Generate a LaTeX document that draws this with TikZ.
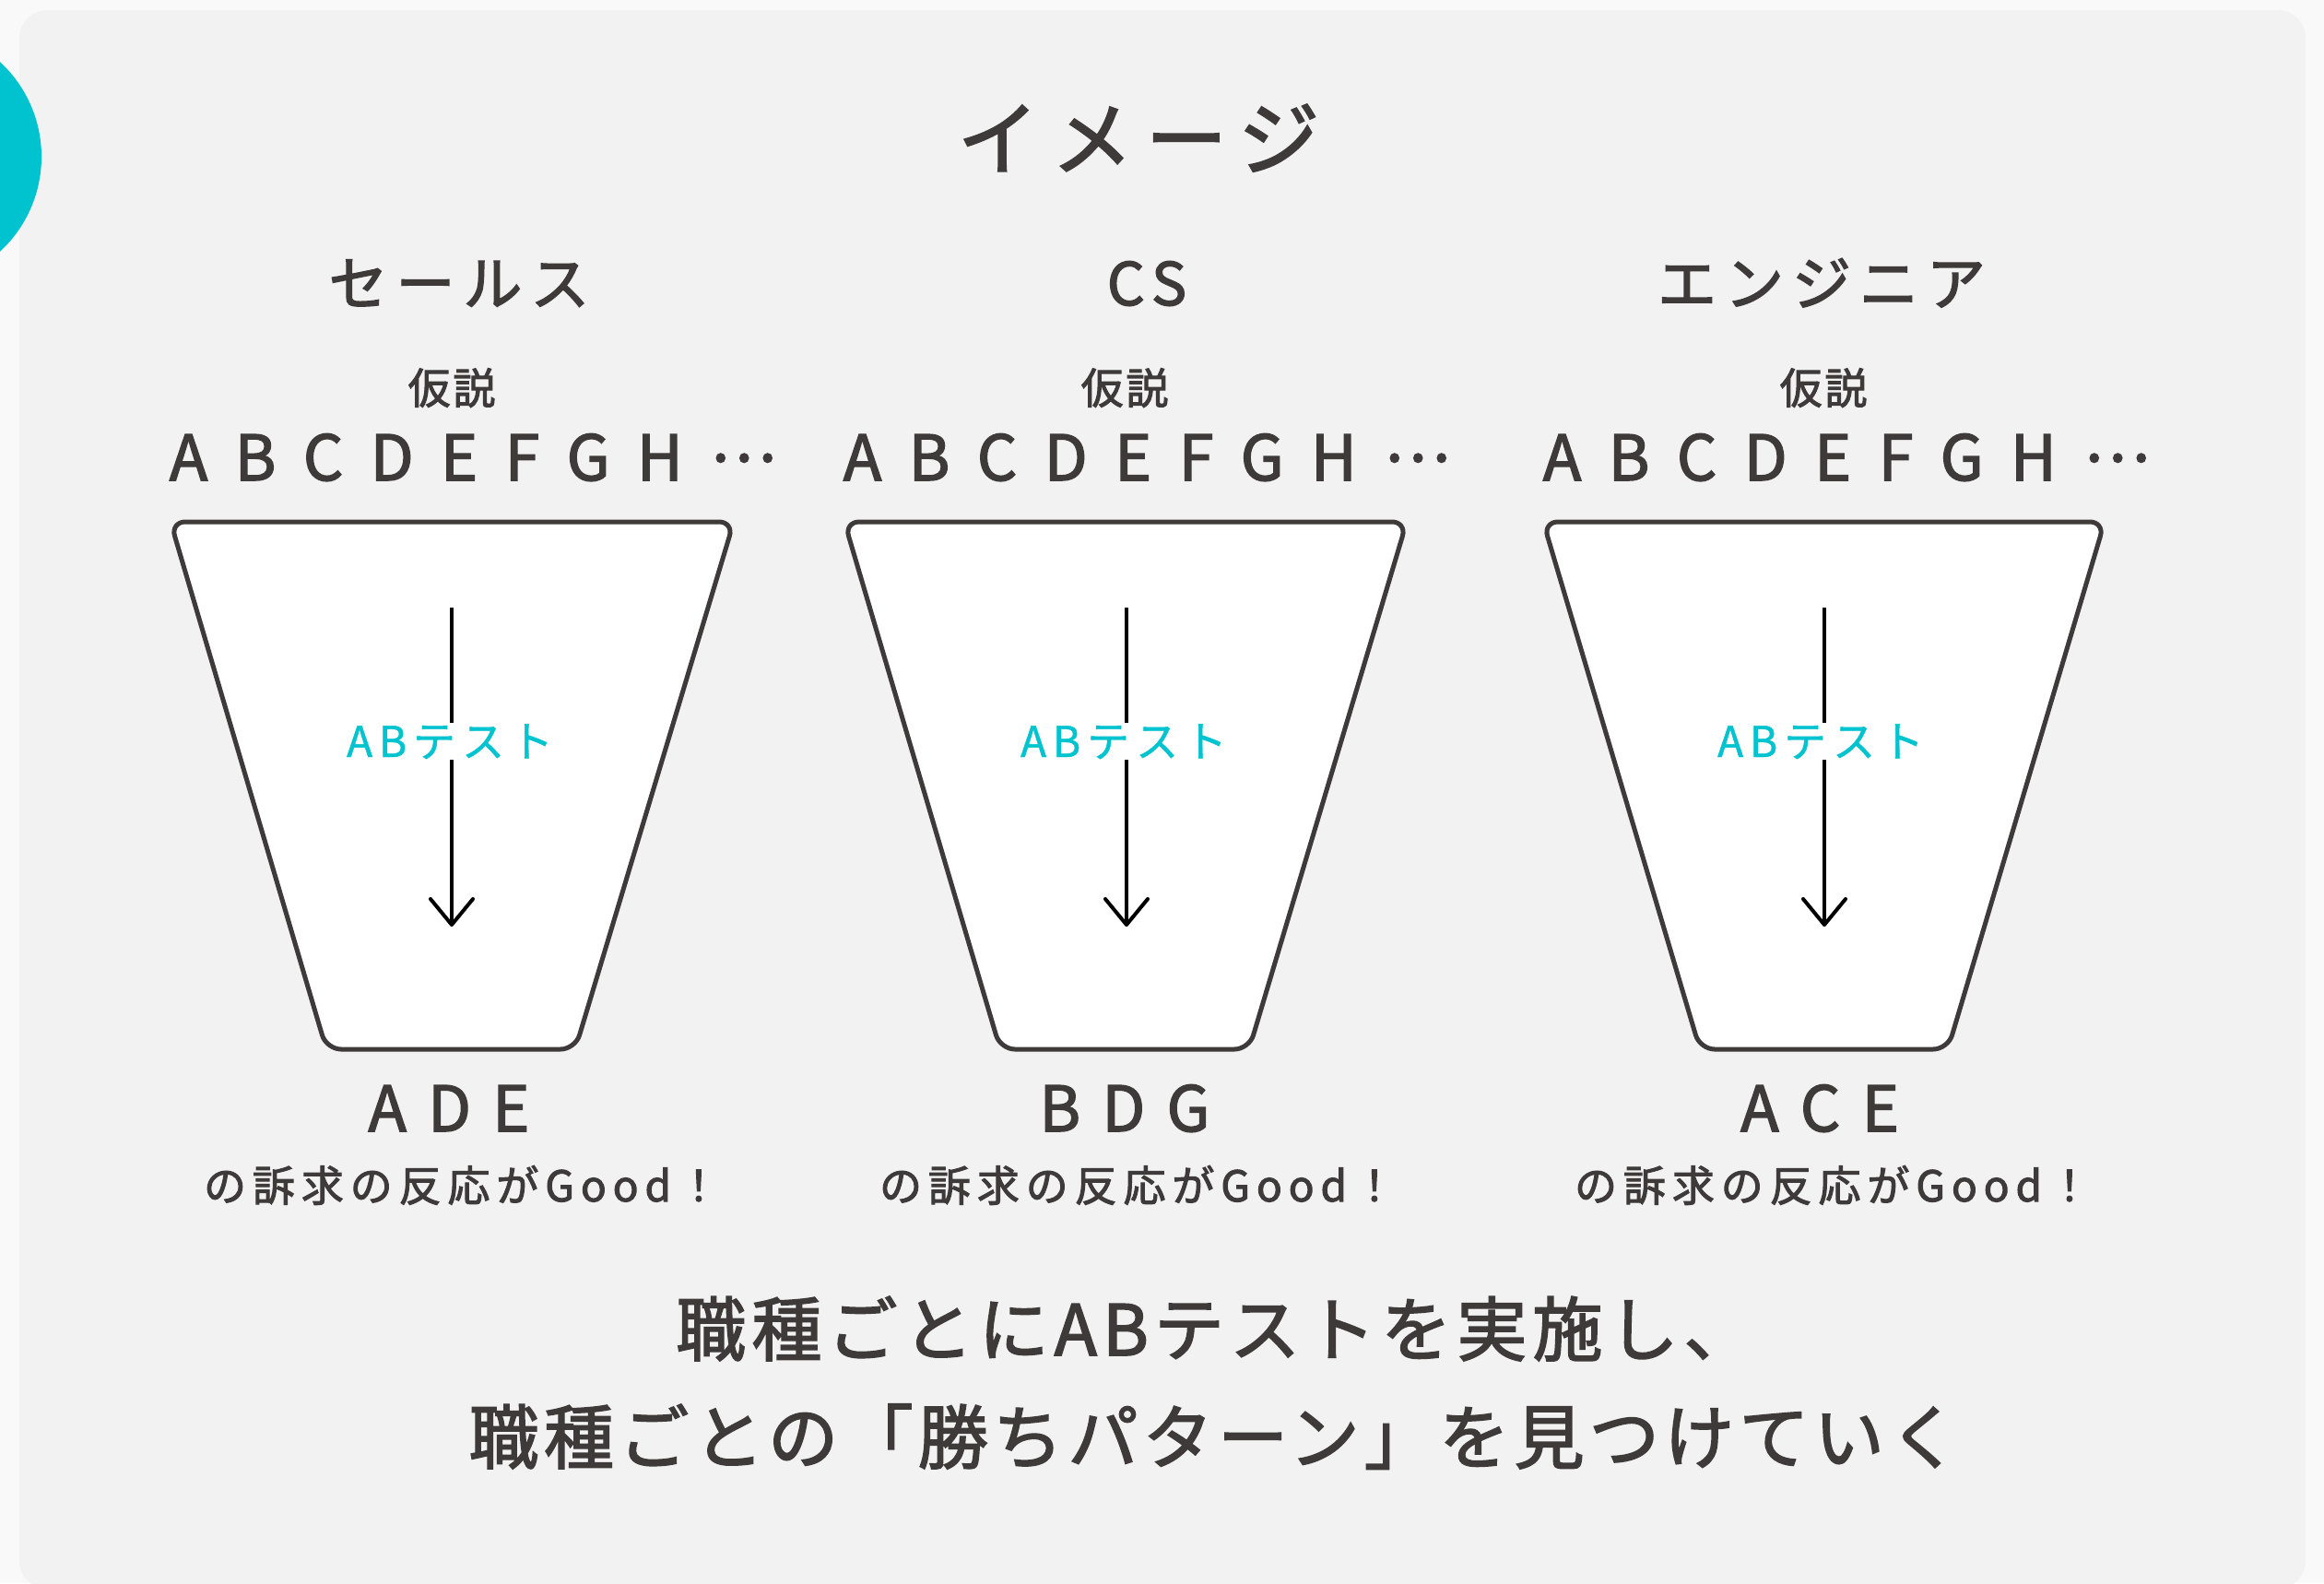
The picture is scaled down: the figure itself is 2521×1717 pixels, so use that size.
\documentclass[tikz,border=0pt]{standalone}
\usepackage{fontspec}
\setmainfont{Noto Sans CJK JP}[FakeBold=2.2]
\usetikzlibrary{arrows.meta}
\definecolor{ink}{HTML}{3E3A39}
\definecolor{cyanish}{HTML}{00C3D0}
\definecolor{panel}{HTML}{F2F2F2}
\definecolor{outer}{HTML}{F9F9F9}
\newcommand{\fsz}[2]{\fontsize{#1}{#1}\selectfont\addfontfeatures{LetterSpace=#2}}
\newcommand{\mdots}{\raisebox{0.3em}{…}}
\begin{document}
\begin{tikzpicture}[x=1pt,y=-1pt,
  txt/.style={text=ink, anchor=base, inner sep=0pt},
  titletxt/.style={txt, font=\fsz{88}{16}},
  headtxt/.style={txt, font=\fsz{64}{14}},
  hyptxt/.style={txt, font=\fsz{46}{6}},
  abctxt/.style={txt, font=\fsz{68}{21}},
  abtxt/.style={anchor=base, text=cyanish, fill=white, inner sep=1pt, font=\fsz{46}{15}\addfontfeatures{FakeBold=1}},
  restxt/.style={txt, font=\fsz{68}{12}},
  goodtxt/.style={txt, font=\fsz{46}{15}},
  leadtxt/.style={txt, font=\fsz{76}{8}},
  funnel/.style={draw=ink, fill=white, line width=5pt, rounded corners=16pt},
  flow/.style={draw=black, line width=4pt, -{Straight Barb[length=28pt,width=46pt,round]}}
]
\useasboundingbox (0,0) rectangle (2521,1717);
\fill[outer] (0,0) rectangle (2521,1717);
\fill[panel, rounded corners=30pt] (21,11) rectangle (2501,1723);
\fill[cyanish] (-95,170) circle (140);

\node[titletxt] (title) at (1235,183) {イメージ};

% column 1
\node[headtxt] (h1) at (498,331) {セールス};
\node[hyptxt] (k1) at (490,438) {仮説};
\node[abctxt] (l1) at (513,521) {A B C D E F G H \mdots};
\draw[funnel] (490,566) -- (796,566) -- (624,1138) -- (354,1138) -- (185,566) -- cycle;
\coordinate (s1) at (490,659);
\coordinate (e1) at (490,1005);
\draw[flow] (s1) -- (e1);
\node[abtxt] (t1) at (488,821) {ABテスト};
\node[restxt] (r1) at (487,1227) {A D E};
\node[goodtxt] (g1) at (501,1303) {の訴求の反応がGood！};

% column 2
\node[headtxt] (h2) at (1244,331) {CS};
\node[hyptxt] (k2) at (1220,438) {仮説};
\node[abctxt] (l2) at (1244,521) {A B C D E F G H \mdots};
\draw[funnel] (1221,566) -- (1526,566) -- (1355,1138) -- (1085,1138) -- (916,566) -- cycle;
\coordinate (s2) at (1222,659);
\coordinate (e2) at (1222,1005);
\draw[flow] (s2) -- (e2);
\node[abtxt] (t2) at (1219,821) {ABテスト};
\node[restxt] (r2) at (1220,1227) {B D G};
\node[goodtxt] (g2) at (1234,1303) {の訴求の反応がGood！};

% column 3
\node[headtxt] (h3) at (1976,331) {エンジニア};
\node[hyptxt] (k3) at (1978,438) {仮説};
\node[abctxt] (l3) at (2003,521) {A B C D E F G H \mdots};
\draw[funnel] (1979,566) -- (2283,566) -- (2113,1138) -- (1844,1138) -- (1674,566) -- cycle;
\coordinate (s3) at (1979,659);
\coordinate (e3) at (1979,1005);
\draw[flow] (s3) -- (e3);
\node[abtxt] (t3) at (1975,821) {ABテスト};
\node[restxt] (r3) at (1974,1227) {A C E};
\node[goodtxt] (g3) at (1988,1303) {の訴求の反応がGood！};

\node[leadtxt] (m1) at (1318,1470) {職種ごとにABテストを実施し、};
\node[leadtxt, font=\fsz{76}{7}] (m2) at (1317,1587) {職種ごとの「勝ちパターン」を見つけていく};
\end{tikzpicture}
\end{document}
